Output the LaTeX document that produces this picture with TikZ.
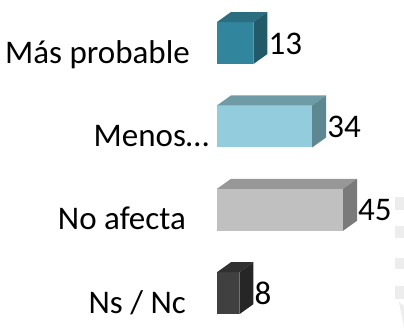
\documentclass[tikz,border=0pt]{standalone}
\usepackage{fontspec}
\setmainfont{Carlito}
\usetikzlibrary{calc}

\definecolor{masf}{HTML}{31859C}
\definecolor{mast}{HTML}{2A6E80}
\definecolor{mass}{HTML}{215A69}
\definecolor{menf}{HTML}{93CDDD}
\definecolor{ment}{HTML}{6F9BA6}
\definecolor{mens}{HTML}{5E8891}
\definecolor{nof}{HTML}{C0C0C0}
\definecolor{not}{HTML}{979797}
\definecolor{nos}{HTML}{7A7A7A}
\definecolor{nsf}{HTML}{404040}
\definecolor{nst}{HTML}{303030}
\definecolor{nss}{HTML}{262626}
\definecolor{wmark}{HTML}{EDEDED}

\begin{document}
\begin{tikzpicture}[x=1pt,y=-1pt,font=\fontsize{33}{40}\selectfont]
\useasboundingbox (0,0) rectangle (404,327);
% faint marks at the right edge
\fill[wmark] (395,197) rectangle (404,210);
\fill[wmark] (395,226) rectangle (404,238);
\fill[wmark] (395,258) rectangle (404,269);
\fill[wmark] (395,286) rectangle (404,299);
\fill[wmark] (404,305) arc (90:180:9 and 22) -- (404,327) -- cycle;
% bars
\foreach \i/\v/\lab/\xl/\cf/\ct/\cs in {0/13/{Más probable}/190/masf/mast/mass,
	1/34/{Menos…}/209/menf/ment/mens,
	2/45/{No afecta}/186/nof/not/nos,
	3/8/{Ns / Nc}/186/nsf/nst/nss}
{
	\pgfmathsetmacro{\ytop}{22+83.4*\i}
	\pgfmathsetmacro{\w}{2.8*\v}
	\fill[\cf] (217,\ytop) rectangle ++(\w,42);
	\fill[\ct] (217,\ytop) -- ++(14,-10) -- ++(\w,0) -- ++(-14,10) -- cycle;
	\fill[\cs] ($(217,\ytop)+(\w,0)$) -- ++(14,-10) -- ++(0,42) -- ++(-14,10) -- cycle;
	\node[anchor=base east,inner sep=0pt] (lab\i) at (\xl,\ytop+41) {\lab};
	\node[anchor=base west,inner sep=1pt] (val\i) at ($(231,\ytop+32)+(\w,0)$) {\v};
}
\end{tikzpicture}
\end{document}
